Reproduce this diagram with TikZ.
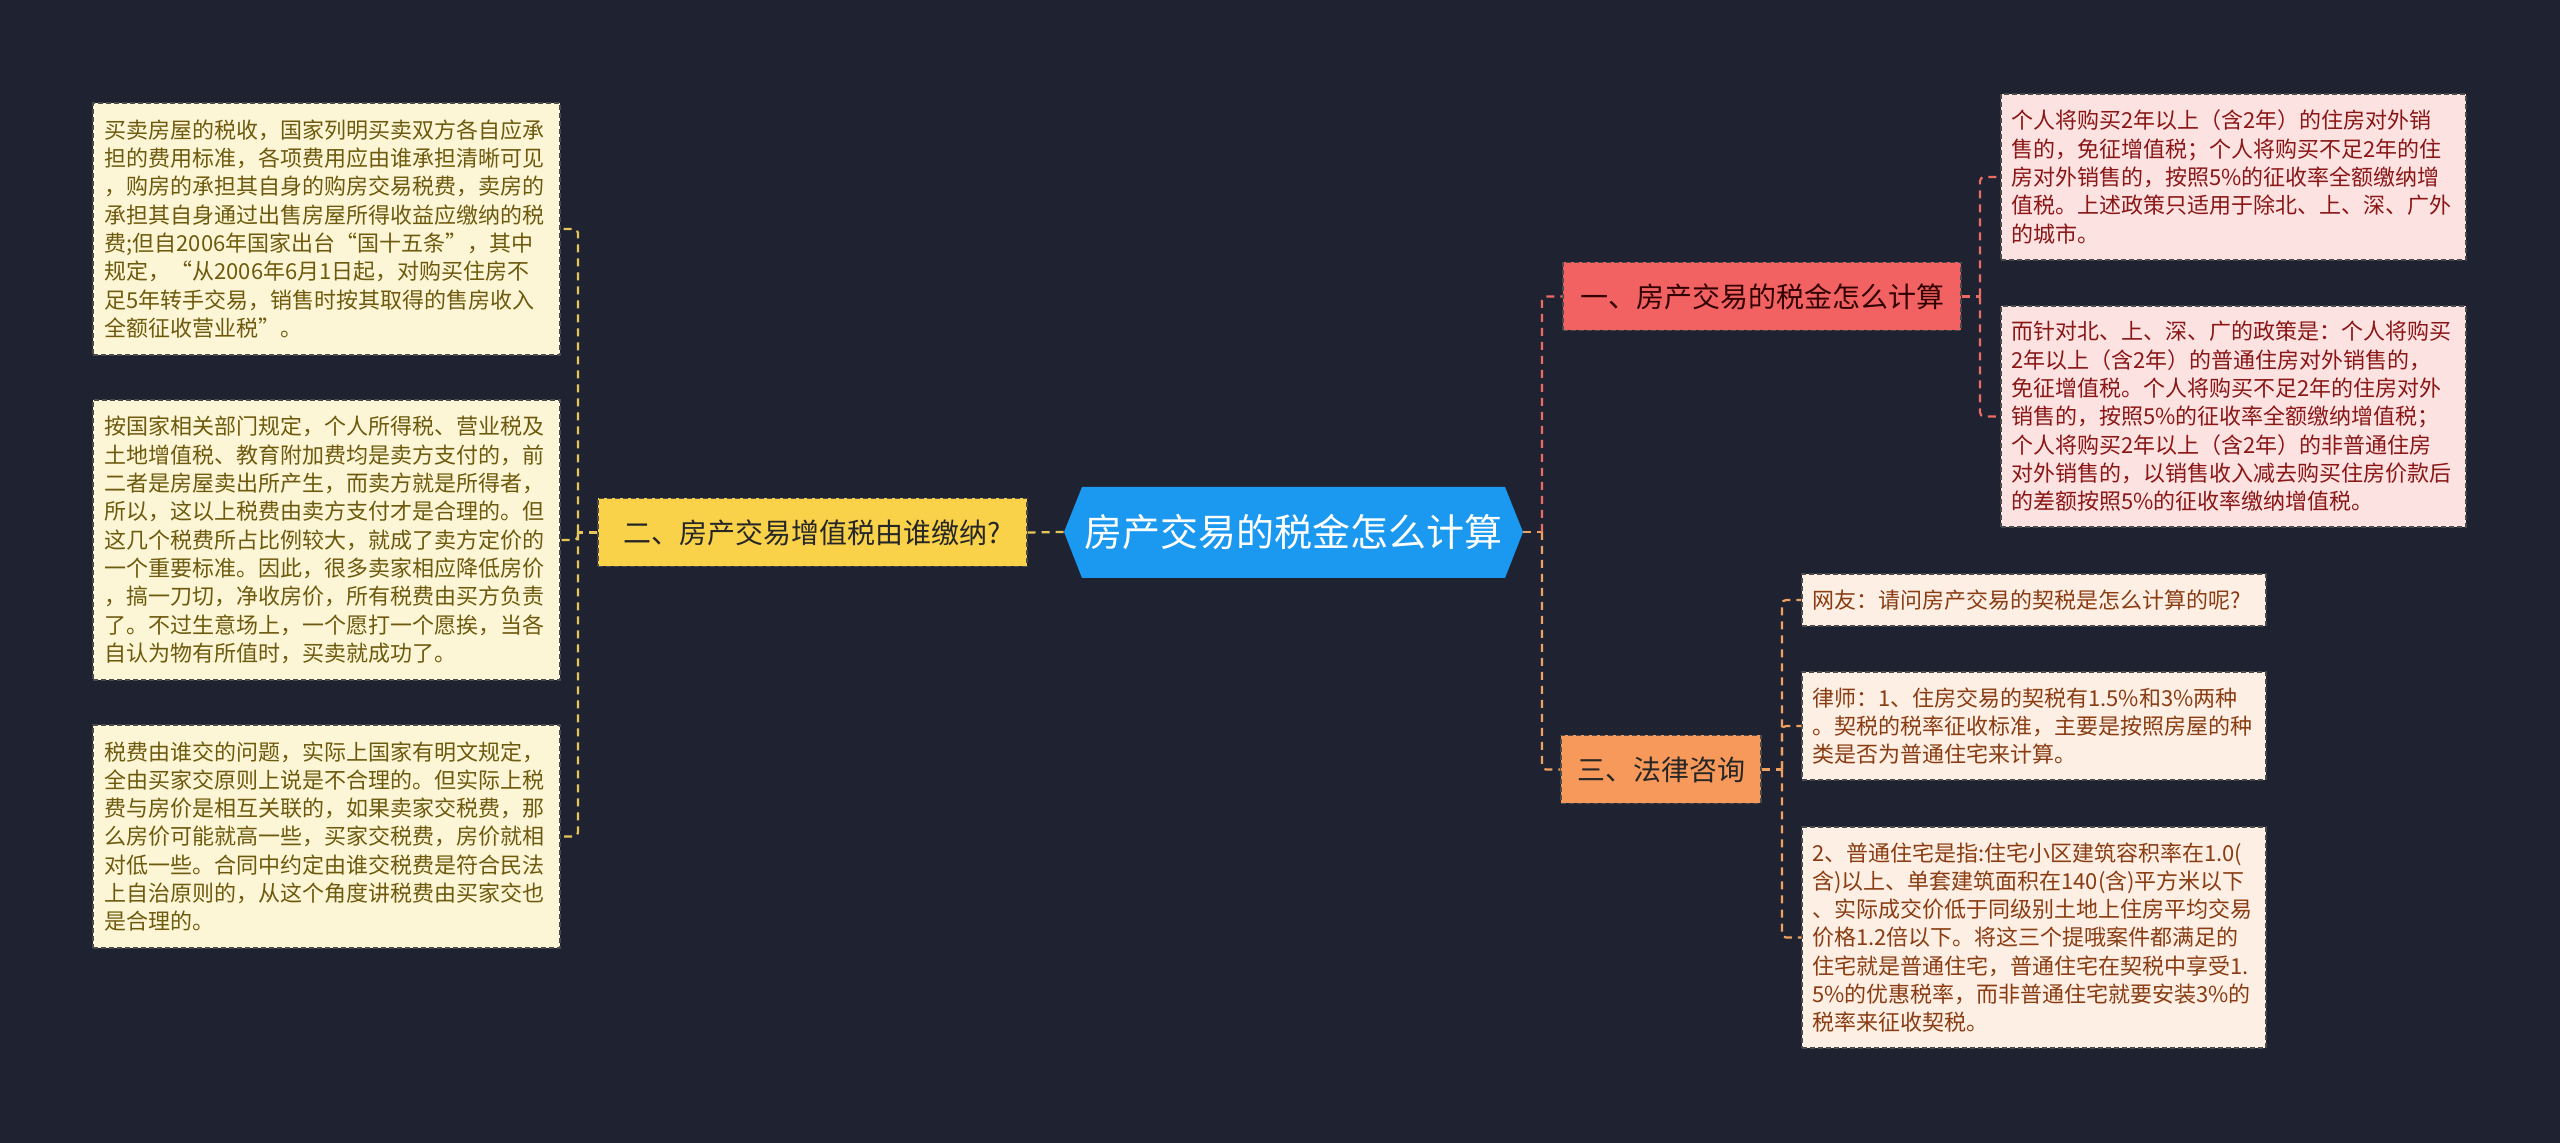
\documentclass[tikz,border=0pt]{standalone}
\usepackage{fontspec}
\setmainfont{Noto Sans CJK SC}
\definecolor{bgc}{HTML}{1F2331}
\definecolor{centerblue}{HTML}{1B98F0}
\definecolor{ybranch}{HTML}{F9D24A}
\definecolor{rbranch}{HTML}{F26262}
\definecolor{obranch}{HTML}{F7995A}
\definecolor{yleaf}{HTML}{FDF6D6}
\definecolor{yleaftext}{HTML}{6E5A0E}
\definecolor{rleaf}{HTML}{FDE2E2}
\definecolor{rleaftext}{HTML}{8A1616}
\definecolor{oleaf}{HTML}{FDEFE4}
\definecolor{oleaftext}{HTML}{8A3C12}
\definecolor{yline}{HTML}{E6C65A}
\definecolor{rline}{HTML}{EE6B63}
\definecolor{oline}{HTML}{F0A060}
\definecolor{boxedge}{HTML}{4A4A4A}
\begin{document}
\begin{tikzpicture}[x=0.5pt,y=-0.5pt,
  boxbase/.style={draw=boxedge, dashed, dash pattern=on 2.5pt off 1.5pt, line width=0.6pt, inner sep=0pt},
  leafbox/.style={boxbase, align=left, text width=#1, font=\fontsize{11pt}{14.15pt}\selectfont},
  yleafbox/.style={leafbox=222pt, fill=yleaf, text=yleaftext, minimum width=233.5pt},
  rleafbox/.style={leafbox=222pt, fill=rleaf, text=rleaftext, minimum width=232.5pt},
  oleafbox/.style={leafbox=222pt, fill=oleaf, text=oleaftext, minimum width=232pt},
  branchbox/.style={boxbase, font=\fontsize{14pt}{16pt}\selectfont, minimum height=34pt},
  conn/.style={line width=1.1pt, dashed, dash pattern=on 4pt off 3pt, rounded corners=2pt},
  yconn/.style={conn, draw=yline},
  rconn/.style={conn, draw=rline},
  oconn/.style={conn, draw=oline}
]
\fill[bgc] (0,0) rectangle (2560,1143);
\useasboundingbox (0,0) rectangle (2560,1143);

% centre topic
\fill[centerblue] (1064,532) -- (1082,487) -- (1505,487) -- (1523,532) -- (1505,578) -- (1082,578) -- cycle;
\node[inner sep=0pt, minimum width=229.5pt, minimum height=45.5pt, text=white,
  font=\fontsize{19pt}{22pt}\selectfont] (center) at (1293.5,532) {房产交易的税金怎么计算};

% branches
\node[branchbox, fill=ybranch, text=black!85, minimum width=214.5pt] (lb) at (812.5,532.5) {二、房产交易增值税由谁缴纳?};
\node[branchbox, fill=rbranch, text=black!80!red, minimum width=199pt] (b1) at (1762,296.5) {一、房产交易的税金怎么计算};
\node[branchbox, fill=obranch, text=black!85, minimum width=100pt] (b3) at (1661,769.5) {三、法律咨询};

% left leaves
\node[yleafbox, minimum height=126pt] (l1) at (326.5,229) {买卖房屋的税收，国家列明买卖双方各自应承\\担的费用标准，各项费用应由谁承担清晰可见\\，购房的承担其自身的购房交易税费，卖房的\\承担其自身通过出售房屋所得收益应缴纳的税\\费;但自2006年国家出台“国十五条”，其中\\规定，“从2006年6月1日起，对购买住房不\\足5年转手交易，销售时按其取得的售房收入\\全额征收营业税”。};
\node[yleafbox, minimum height=140pt] (l2) at (326.5,540) {按国家相关部门规定，个人所得税、营业税及\\土地增值税、教育附加费均是卖方支付的，前\\二者是房屋卖出所产生，而卖方就是所得者，\\所以，这以上税费由卖方支付才是合理的。但\\这几个税费所占比例较大，就成了卖方定价的\\一个重要标准。因此，很多卖家相应降低房价\\，搞一刀切，净收房价，所有税费由买方负责\\了。不过生意场上，一个愿打一个愿挨，当各\\自认为物有所值时，买卖就成功了。};
\node[yleafbox, minimum height=111.5pt] (l3) at (326.5,836.5) {税费由谁交的问题，实际上国家有明文规定，\\全由买家交原则上说是不合理的。但实际上税\\费与房价是相互关联的，如果卖家交税费，那\\么房价可能就高一些，买家交税费，房价就相\\对低一些。合同中约定由谁交税费是符合民法\\上自治原则的，从这个角度讲税费由买家交也\\是合理的。};

% right leaves of branch 1
\node[rleafbox, minimum height=83pt] (ra) at (2233.5,177) {个人将购买2年以上（含2年）的住房对外销\\售的，免征增值税；个人将购买不足2年的住\\房对外销售的，按照5\%的征收率全额缴纳增\\值税。上述政策只适用于除北、上、深、广外\\的城市。};
\node[rleafbox, minimum height=110.5pt] (rb) at (2233.5,416.5) {而针对北、上、深、广的政策是：个人将购买\\2年以上（含2年）的普通住房对外销售的，\\免征增值税。个人将购买不足2年的住房对外\\销售的，按照5\%的征收率全额缴纳增值税；\\个人将购买2年以上（含2年）的非普通住房\\对外销售的，以销售收入减去购买住房价款后\\的差额按照5\%的征收率缴纳增值税。};

% right leaves of branch 3
\node[oleafbox, minimum height=26pt] (oc) at (2034,600) {网友：请问房产交易的契税是怎么计算的呢?};
\node[oleafbox, minimum height=54pt] (od) at (2034,726) {律师：1、住房交易的契税有1.5\%和3\%两种\\。契税的税率征收标准，主要是按照房屋的种\\类是否为普通住宅来计算。};
\node[oleafbox, minimum height=110.5pt] (oe) at (2034,937.5) {2、普通住宅是指:住宅小区建筑容积率在1.0(\\含)以上、单套建筑面积在140(含)平方米以下\\、实际成交价低于同级别土地上住房平均交易\\价格1.2倍以下。将这三个提哦案件都满足的\\住宅就是普通住宅，普通住宅在契税中享受1.\\5\%的优惠税率，而非普通住宅就要安装3\%的\\税率来征收契税。};

% junctions
\coordinate (lj) at (578,532.5);
\coordinate (rj) at (1542,532);
\coordinate (j1) at (1980,296.5);
\coordinate (j3) at (1782,769.5);

% connectors
\draw[yconn] (center.west) -- (lb.east);
\draw[yconn] (lb.west) -- (lj);
\draw[yconn] (lj) |- (l1.east);
\draw[yconn] (lj) |- (l2.east);
\draw[yconn] (lj) |- (l3.east);

\draw[oconn] (center.east) -- (rj);
\draw[rconn] (rj) |- (b1.west);
\draw[oconn] (rj) |- (b3.west);

\draw[rconn] (b1.east) -- (j1);
\draw[rconn] (j1) |- (ra.west);
\draw[rconn] (j1) |- (rb.west);

\draw[oconn] (b3.east) -- (j3);
\draw[oconn] (j3) |- (oc.west);
\draw[oconn] (j3) |- (od.west);
\draw[oconn] (j3) |- (oe.west);
\end{tikzpicture}
\end{document}
